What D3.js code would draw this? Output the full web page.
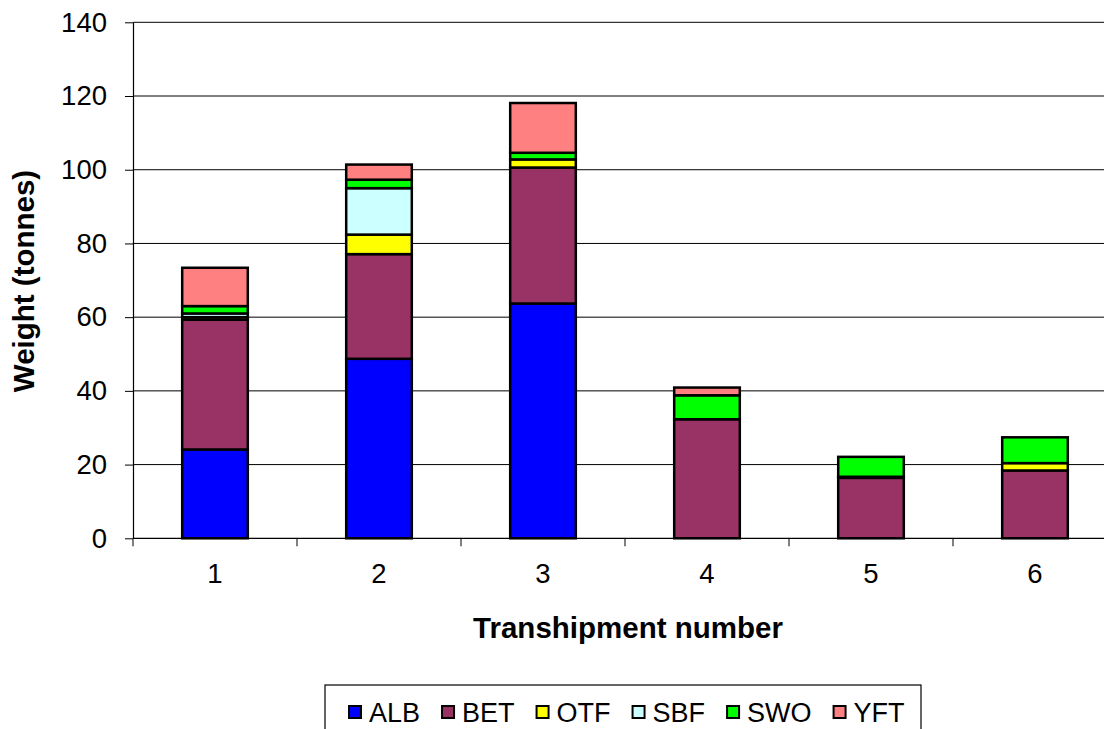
<!DOCTYPE html>
<html>
<head>
<meta charset="utf-8">
<script src="https://cdn.jsdelivr.net/npm/d3@7"></script>
<style>
  html, body { margin: 0; padding: 0; background: #fff; }
  svg { display: block; font-family: "Liberation Sans", Arial, sans-serif; }
</style>
</head>
<body>
<svg id="chart" width="1104" height="729"></svg>
<script>
// ---- data ----
const categories = ["1", "2", "3", "4", "5", "6"];
const species = ["ALB", "BET", "OTF", "SBF", "SWO", "YFT"];
const ALB = [24.1, 48.7, 63.7, 0, 0, 0];
const BET = [35.2, 28.4, 36.9, 32.3, 16.4, 18.4];
const OTF = [0.7, 5.3, 2.2, 0, 0.3, 2.0];
const SBF = [1.0, 12.6, 0, 0, 0, 0];
const SWO = [2.0, 2.3, 1.8, 6.5, 5.4, 7.0];
const YFT = [10.4, 4.1, 13.5, 2.1, 0, 0];
const yTicks = [0, 20, 40, 60, 80, 100, 120, 140];
const colors = ["#0000ff", "#993366", "#ffff00", "#ccffff", "#00ff00", "#ff8080"];

const seriesValues = [ALB, BET, OTF, SBF, SWO, YFT];
const table = categories.map((c, i) => {
  const row = { cat: c };
  species.forEach((s, j) => row[s] = seriesValues[j][i]);
  return row;
});

const svg = d3.select("#chart");
const mLeft = 133, mRight = 1117, mTop = 22.3, mBottom = 538.3;

const x = d3.scaleBand().domain(categories).range([mLeft, mRight]).paddingInner(0.6).paddingOuter(0.3);
const y = d3.scaleLinear().domain([0, 140]).range([mBottom, mTop]);

// gridlines
svg.append("g").selectAll("line").data(yTicks.filter(d => d > 0)).join("line")
  .attr("x1", mLeft).attr("x2", mRight)
  .attr("y1", d => y(d)).attr("y2", d => y(d))
  .attr("stroke", "#000").attr("stroke-width", 1);

// stacked bars
const stack = d3.stack().keys(species)(table);
const g = svg.append("g");
stack.forEach((layer, j) => {
  g.append("g").selectAll("rect").data(layer.filter(d => d[1] - d[0] > 0)).join("rect")
    .attr("x", d => x(d.data.cat))
    .attr("width", x.bandwidth())
    .attr("y", d => y(d[1]))
    .attr("height", d => y(d[0]) - y(d[1]))
    .attr("fill", colors[j])
    .attr("stroke", "#000")
    .attr("stroke-width", 2.5);
});

// y axis
const yAxis = svg.append("g").attr("transform", `translate(${mLeft},0)`)
  .call(d3.axisLeft(y).tickValues(yTicks).tickSize(8).tickPadding(18).tickSizeOuter(0));
yAxis.select(".domain").attr("stroke", "#000").attr("stroke-width", 1.2);
yAxis.selectAll(".tick line").attr("stroke", "#000");
yAxis.selectAll("text").attr("font-size", 27.5).attr("fill", "#000")
  .attr("font-family", "'Liberation Sans', Arial, sans-serif");

// x axis
const xTickScale = d3.scalePoint().domain(d3.range(categories.length + 1)).range([mLeft, mRight]);
svg.append("line").attr("x1", mLeft).attr("x2", mRight).attr("y1", mBottom).attr("y2", mBottom)
  .attr("stroke", "#000").attr("stroke-width", 1.2);
svg.append("g").selectAll("line").data(d3.range(categories.length + 1)).join("line")
  .attr("x1", d => xTickScale(d)).attr("x2", d => xTickScale(d))
  .attr("y1", mBottom).attr("y2", mBottom + 8)
  .attr("stroke", "#000");
svg.append("g").selectAll("text").data(categories).join("text")
  .attr("x", d => x(d) + x.bandwidth() / 2)
  .attr("y", 583)
  .attr("text-anchor", "middle")
  .attr("font-size", 27.5)
  .text(d => d);

// axis titles
svg.append("text")
  .attr("transform", "translate(34,281) rotate(-90)")
  .attr("text-anchor", "middle")
  .attr("font-size", 29.5).attr("font-weight", "bold")
  .text("Weight (tonnes)");
svg.append("text")
  .attr("x", 628).attr("y", 638)
  .attr("text-anchor", "middle")
  .attr("font-size", 29.5).attr("font-weight", "bold")
  .text("Transhipment number");

// legend
const legend = svg.append("g");
legend.append("rect").attr("x", 325).attr("y", 685).attr("width", 596).attr("height", 60)
  .attr("fill", "#fff").attr("stroke", "#000").attr("stroke-width", 1.2);
let lx = 349;
species.forEach((s, j) => {
  legend.append("rect").attr("x", lx).attr("y", 706).attr("width", 12).attr("height", 12)
    .attr("fill", colors[j]).attr("stroke", "#000").attr("stroke-width", 2);
  const t = legend.append("text").attr("x", lx + 20).attr("y", 722)
    .attr("font-size", 27).text(s);
  lx = lx + 20 + t.node().getComputedTextLength() + 22;
});
</script>
</body>
</html>
